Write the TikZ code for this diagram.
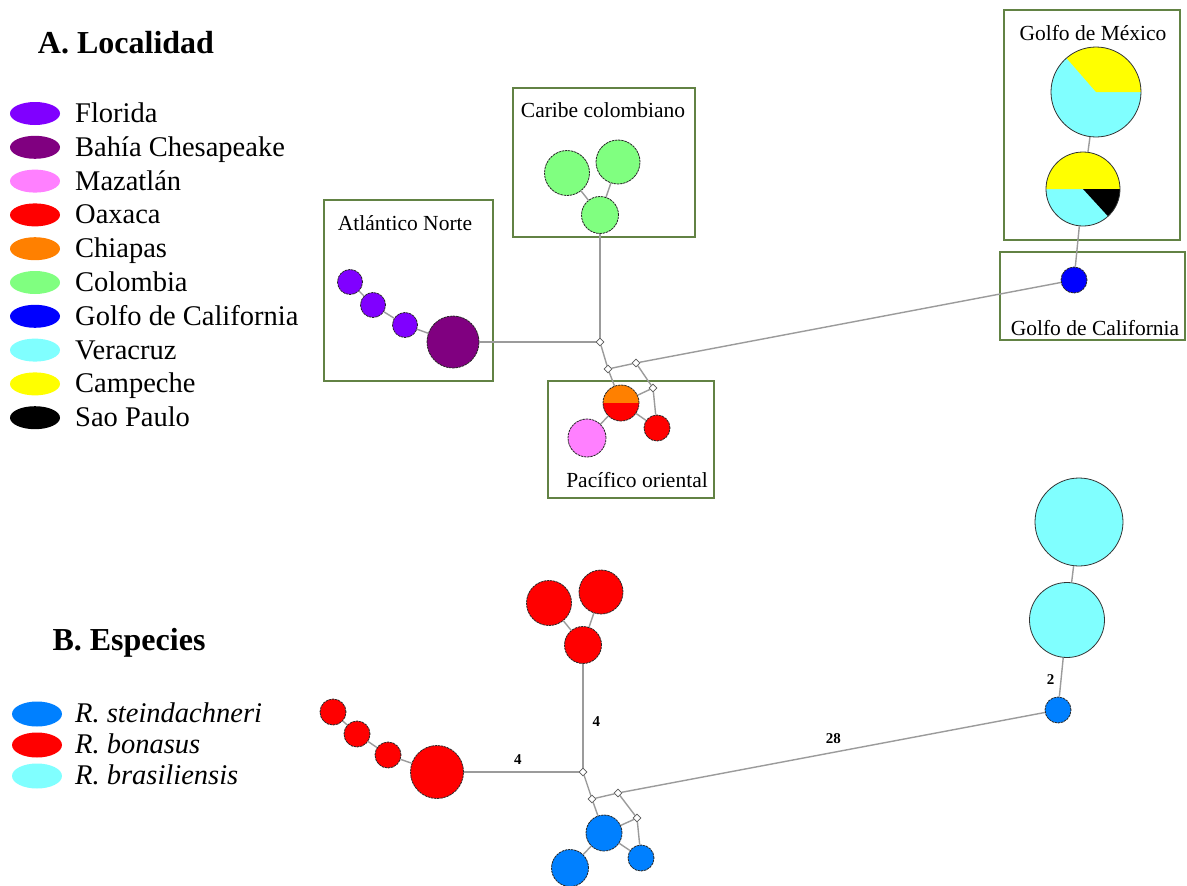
\documentclass[tikz,border=0pt]{standalone}
\usepackage{fontspec}
\setmainfont{Liberation Serif}
\usetikzlibrary{shapes.geometric}

\definecolor{cFlo}{RGB}{128,0,255}
\definecolor{cChe}{RGB}{128,0,128}
\definecolor{cMaz}{RGB}{255,128,255}
\definecolor{cOax}{RGB}{255,0,0}
\definecolor{cChi}{RGB}{255,128,0}
\definecolor{cCol}{RGB}{128,255,128}
\definecolor{cGoC}{RGB}{0,0,255}
\definecolor{cVer}{RGB}{128,255,255}
\definecolor{cCam}{RGB}{255,255,0}
\definecolor{cSao}{RGB}{0,0,0}
\definecolor{cSte}{RGB}{0,128,255}
\definecolor{boxgreen}{RGB}{98,130,68}
\definecolor{edgegray}{RGB}{155,155,155}

\tikzset{
  hap/.style 2 args={circle, inner sep=0pt, minimum size=#1, fill=#2,
    draw=black!85, line width=0.8pt, dash pattern=on 2.4pt off 0.8pt},
  piehap/.style={circle, inner sep=0pt, minimum size=#1, draw=black!80, line width=0.8pt},
  dpiehap/.style={circle, inner sep=0pt, minimum size=#1, draw=black!85,
    line width=0.8pt, dash pattern=on 2.4pt off 0.8pt},
  mv/.style={diamond, inner sep=0pt, minimum width=8pt, minimum height=8pt,
    fill=white, draw=black!65, line width=0.8pt},
  link/.style={draw=edgegray, line width=1.4pt},
  region/.style={rectangle, draw=boxgreen, line width=2.4pt, inner sep=0pt},
  regionlabel/.style={inner sep=0pt, font=\fontsize{21.5}{22}\selectfont},
  legkey/.style={ellipse, minimum width=50pt, minimum height=23pt, inner sep=0pt, fill=#1},
  legtext/.style={anchor=base west, inner sep=0pt, font=\fontsize{28.5}{30}\selectfont},
  panel/.style={inner sep=0pt, font=\fontsize{32}{34}\selectfont\bfseries},
  steps/.style={inner sep=0pt, font=\fontsize{15}{16}\selectfont\bfseries},
}

\begin{document}
\begin{tikzpicture}[x=1pt, y=-1pt]
\useasboundingbox (0,0) rectangle (1187,886);
\fill[white] (0,0) rectangle (1187,886);

% ---------------- Panel A: legend ----------------
\node[panel] (titleA) at (126,43) {A. Localidad};
\foreach \col/\name [count=\i from 0] in {
  cFlo/Florida, cChe/Bahía Chesapeake, cMaz/Mazatlán, cOax/Oaxaca,
  cChi/Chiapas, cCol/Colombia, cGoC/Golfo de California, cVer/Veracruz,
  cCam/Campeche, cSao/Sao Paulo} {
  \node[legkey=\col] (keyA\i) at (35,113.5+33.8*\i) {};
  \node[legtext] (labA\i) at (75,122.5+33.8*\i) {\name};
}

% ---------------- Panel A: regions ----------------
\node[region, minimum width=169pt, minimum height=181pt] (boxAtl) at (408.5,290.5) {};
\node[region, minimum width=182pt, minimum height=149pt] (boxCar) at (604,162.5) {};
\node[region, minimum width=166pt, minimum height=117pt] (boxPac) at (631,439.5) {};
\node[region, minimum width=176pt, minimum height=230pt] (boxGoM) at (1092,125) {};
\node[region, minimum width=185pt, minimum height=88pt] (boxGoC) at (1092.5,296) {};
\node[regionlabel] (tAtl) at (405,223) {Atlántico Norte};
\node[regionlabel] (tCar) at (603,110) {Caribe colombiano};
\node[regionlabel] (tPac) at (637,480) {Pacífico oriental};
\node[regionlabel] (tGoM) at (1093,33) {Golfo de México};
\node[regionlabel] (tGoC) at (1095,328) {Golfo de California};

% ---------------- Panel A: haplotypes ----------------
\node[hap={25pt}{cFlo}] (fl1) at (350,282) {};
\node[hap={25pt}{cFlo}] (fl2) at (373,305) {};
\node[hap={25pt}{cFlo}] (fl3) at (405,325) {};
\node[hap={52pt}{cChe}] (che) at (453,342) {};
\node[hap={45pt}{cCol}] (co1) at (567,173) {};
\node[hap={44pt}{cCol}] (co2) at (618,162) {};
\node[hap={37pt}{cCol}] (co3) at (600,215) {};
\node[mv] (a1) at (600,342) {};
\node[mv] (a2) at (608,369) {};
\node[mv] (a3) at (636,363) {};
\node[mv] (a4) at (653,388) {};
\coordinate (pOC) at (621,403);
\fill[cChi] (pOC) -- ++(0:18pt) arc[start angle=0, end angle=180, radius=18pt] -- cycle;
\fill[cOax] (pOC) -- ++(180:18pt) arc[start angle=180, end angle=360, radius=18pt] -- cycle;
\node[dpiehap=36pt] (oc) at (pOC) {};
\node[hap={38pt}{cMaz}] (maz) at (587,438) {};
\node[hap={26pt}{cOax}] (oax) at (657,428) {};
\node[hap={26pt}{cGoC}] (goc) at (1074,280) {};
\coordinate (pM1) at (1096,92);
\fill[cVer] (pM1) circle[radius=45pt];
\fill[cCam] (pM1) -- ++(0:45pt) arc[start angle=0, end angle=131, radius=45pt] -- cycle;
\node[piehap=90pt] (gm1) at (pM1) {};
\coordinate (pM2) at (1083,189);
\fill[cVer] (pM2) circle[radius=37pt];
\fill[cCam] (pM2) -- ++(0:37pt) arc[start angle=0, end angle=180, radius=37pt] -- cycle;
\fill[cSao] (pM2) -- ++(0:37pt) arc[start angle=0, end angle=-47.5, radius=37pt] -- cycle;
\node[piehap=74pt] (gm2) at (pM2) {};

\draw[link] (fl1) -- (fl2);
\draw[link] (fl2) -- (fl3);
\draw[link] (fl3) -- (che);
\draw[link] (che) -- (a1);
\draw[link] (co1) -- (co3);
\draw[link] (co2) -- (co3);
\draw[link] (co3) -- (a1);
\draw[link] (a1) -- (a2);
\draw[link] (a2) -- (a3);
\draw[link] (a3) -- (goc);
\draw[link] (a3) -- (a4);
\draw[link] (a2) -- (oc);
\draw[link] (oc) -- (maz);
\draw[link] (oc) -- (a4);
\draw[link] (oc) -- (oax);
\draw[link] (a4) -- (oax);
\draw[link] (goc) -- (gm2);
\draw[link] (gm2) -- (gm1);

% ---------------- Panel B: legend ----------------
\node[panel] (titleB) at (129,643) {B. Especies};
\foreach \col/\name [count=\i from 0] in {
  cSte/R. steindachneri, cOax/R. bonasus, cVer/R. brasiliensis} {
  \node[legkey=\col, minimum height=25pt] (keyB\i) at (37,714+31*\i) {};
  \node[legtext, font=\fontsize{28.5}{30}\selectfont\itshape] (labB\i) at (75,722+31*\i) {\name};
}

% ---------------- Panel B: haplotypes ----------------
\node[hap={26pt}{cOax}] (r1) at (333,712) {};
\node[hap={26pt}{cOax}] (r2) at (357,734) {};
\node[hap={26pt}{cOax}] (r3) at (388,755) {};
\node[hap={53pt}{cOax}] (r4) at (437,772) {};
\node[hap={45pt}{cOax}] (r5) at (549,603) {};
\node[hap={44pt}{cOax}] (r6) at (601,592) {};
\node[hap={37pt}{cOax}] (r7) at (583,645) {};
\node[mv] (b1) at (583,772) {};
\node[mv] (b2) at (592,799) {};
\node[mv] (b3) at (618,793) {};
\node[mv] (b4) at (637,818) {};
\node[hap={36pt}{cSte}] (s1) at (604,833) {};
\node[hap={37pt}{cSte}] (s2) at (570,868) {};
\node[hap={26pt}{cSte}] (s3) at (641,858) {};
\node[hap={26pt}{cSte}] (s4) at (1058,710) {};
\node[piehap=75pt, fill=cVer] (v1) at (1067,620) {};
\node[piehap=88pt, fill=cVer] (v2) at (1079,522) {};

\draw[link] (r1) -- (r2);
\draw[link] (r2) -- (r3);
\draw[link] (r3) -- (r4);
\draw[link] (r4) -- (b1) node[steps, pos=0.47, above=7pt] (n1) {4};
\draw[link] (r5) -- (r7);
\draw[link] (r6) -- (r7);
\draw[link] (r7) -- (b1) node[steps, pos=0.56, right=9pt] (n2) {4};
\draw[link] (b1) -- (b2);
\draw[link] (b2) -- (b3);
\draw[link] (b3) -- (s4) node[steps, pos=0.50, above=8pt] (n3) {28};
\draw[link] (b3) -- (b4);
\draw[link] (b2) -- (s1);
\draw[link] (s1) -- (s2);
\draw[link] (s1) -- (b4);
\draw[link] (s1) -- (s3);
\draw[link] (b4) -- (s3);
\draw[link] (s4) -- (v1) node[steps, pos=0.45, left=6pt] (n4) {2};
\draw[link] (v1) -- (v2);
\end{tikzpicture}
\end{document}
